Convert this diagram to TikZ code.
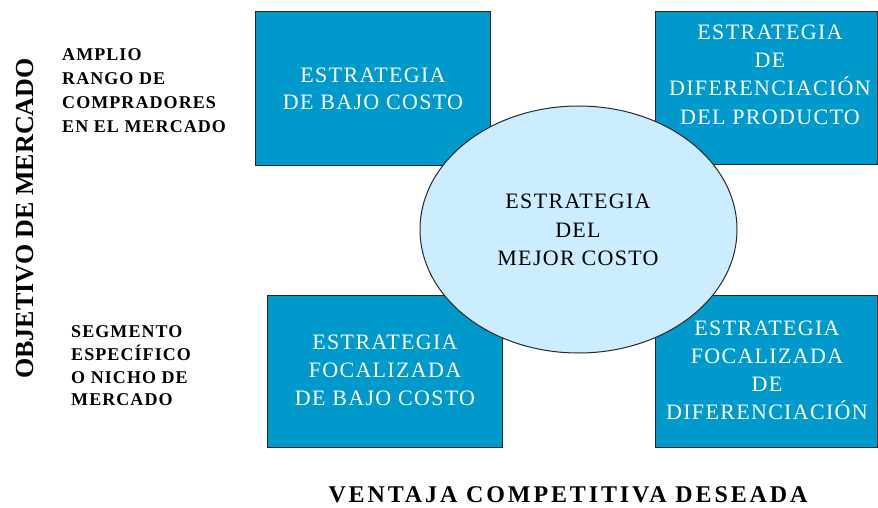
\documentclass[tikz,border=0pt]{standalone}
\usepackage{fontspec}
\setmainfont{Liberation Serif}
\newfontfamily\boxfont[LetterSpace=6]{Liberation Serif}
\newfontfamily\lblfont[LetterSpace=6]{Liberation Serif}
\newfontfamily\axisfont[LetterSpace=12]{Liberation Serif}
\usetikzlibrary{shapes.geometric}
\definecolor{boxblue}{RGB}{0,153,204}
\definecolor{ovalblue}{RGB}{204,236,255}
\definecolor{edgegray}{RGB}{40,40,40}
\begin{document}
\begin{tikzpicture}[x=1pt,y=-1pt,
  stratbox/.style={draw=edgegray, line width=1pt, fill=boxblue, inner sep=0pt},
  boxtext/.style={text=white, align=center, inner sep=0pt, font=\boxfont\fontsize{22}{28}\selectfont},
  ovaltext/.style={text=black, align=center, inner sep=0pt, font=\boxfont\fontsize{22}{28.3}\selectfont},
  sidetext/.style={text=black, align=left, anchor=west, inner sep=0pt, font=\lblfont\bfseries\fontsize{18}{23.5}\selectfont},
  axistext/.style={text=black, inner sep=0pt, font=\bfseries}
]
\useasboundingbox (0,0) rectangle (878,508);
% boxes
\node[stratbox, minimum width=235pt, minimum height=153.5pt] (tl) at (373,88.75) {};
\node[stratbox, minimum width=222.5pt, minimum height=152.5pt] (tr) at (766.25,88.25) {};
\node[stratbox, minimum width=235pt, minimum height=152pt] (bl) at (384.5,371) {};
\node[stratbox, minimum width=222.5pt, minimum height=152pt] (br) at (766.25,371) {};
% central ellipse
\node[ellipse, draw=edgegray, line width=1pt, fill=ovalblue, inner sep=0pt,
      minimum width=317pt, minimum height=247pt] (mid) at (578.5,229.5) {};
% texts
\node[boxtext, font=\boxfont\fontsize{22}{27}\selectfont] (tltxt) at (373,88.5) {ESTRATEGIA\\DE BAJO COSTO};
\node[boxtext, font=\boxfont\fontsize{22}{28.3}\selectfont] (trtxt) at (770,74.5) {ESTRATEGIA\\DE\\DIFERENCIACIÓN\\DEL PRODUCTO};
\node[boxtext] (bltxt) at (385,370.5) {ESTRATEGIA\\FOCALIZADA\\DE BAJO COSTO};
\node[boxtext, font=\boxfont\fontsize{22}{27.9}\selectfont] (brtxt) at (767,370) {ESTRATEGIA\\FOCALIZADA\\DE\\DIFERENCIACIÓN};
\node[ovaltext] (midtxt) at (578,230) {ESTRATEGIA\\DEL\\MEJOR COSTO};
% side labels
\node[sidetext, font=\lblfont\bfseries\fontsize{18}{24}\selectfont] (amplio) at (62,91) {AMPLIO\\RANGO DE\\COMPRADORES\\EN EL MERCADO};
\node[sidetext, font=\lblfont\bfseries\fontsize{18}{22.7}\selectfont] (segmento) at (71,366) {SEGMENTO\\ESPECÍFICO\\O NICHO DE\\MERCADO};
\node[axistext, rotate=90, font=\bfseries\fontsize{26}{30}\selectfont] (objetivo) at (25,218.5) {OBJETIVO DE MERCADO};
\node[axistext, font=\axisfont\bfseries\fontsize{24}{28}\selectfont] (ventaja) at (568,494.5) {VENTAJA COMPETITIVA DESEADA};
\end{tikzpicture}
\end{document}
